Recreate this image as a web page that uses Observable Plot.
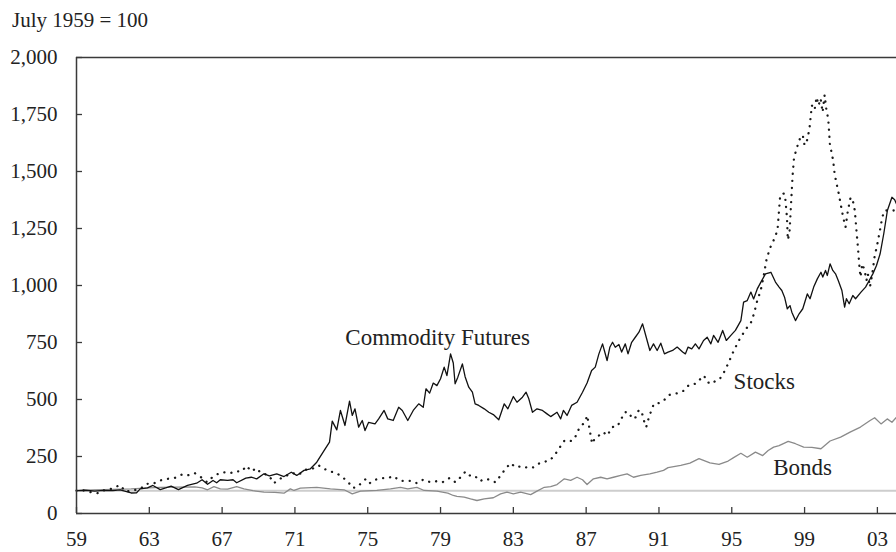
<!DOCTYPE html>
<html>
<head>
<meta charset="utf-8">
<script src="https://cdn.jsdelivr.net/npm/d3@7"></script>
<script src="https://cdn.jsdelivr.net/npm/@observablehq/plot@0.6"></script>
<style>
  html, body { margin: 0; padding: 0; background: #fff; }
  #wrap { width: 896px; height: 552px; position: relative; overflow: hidden; background: #fff; }
  #title { position: relative; height: 40px; font-family: "Liberation Serif", serif; font-size: 21px; color: #222; }
  #title span { position: absolute; left: 12px; top: 10px; line-height: 21px; white-space: nowrap; }
</style>
</head>
<body>
<div id="wrap">
  <div id="title"><span>July 1959 = 100</span></div>
  <div id="chart"></div>
</div>
<script>
// ---- Data (July 1959 = 100) ----
const xDomain = [1959, 2004.05];
const yDomain = [0, 2000];
const xTicks = [1959, 1963, 1967, 1971, 1975, 1979, 1983, 1987, 1991, 1995, 1999, 2003];
const yTicks = [0, 250, 500, 750, 1000, 1250, 1500, 1750, 2000];

const commodityYears = [1959.0,1959.5,1960.0,1960.5,1961.0,1961.4,1961.7,1962.0,1962.3,1962.5,1962.9,1963.2,1963.6,1963.9,1964.2,1964.6,1965.1,1965.6,1965.9,1966.2,1966.5,1966.7,1966.9,1967.3,1967.6,1967.8,1968.3,1968.6,1968.9,1969.3,1969.6,1970.0,1970.4,1970.8,1971.1,1971.5,1971.85,1972.2,1972.6,1972.9,1973.05,1973.3,1973.5,1973.75,1974.0,1974.15,1974.3,1974.5,1974.7,1974.85,1975.05,1975.4,1975.6,1975.9,1976.1,1976.4,1976.7,1976.9,1977.2,1977.5,1977.8,1978.05,1978.2,1978.4,1978.6,1978.8,1979.0,1979.2,1979.35,1979.55,1979.7,1979.8,1979.95,1980.2,1980.35,1980.55,1980.75,1980.9,1981.1,1981.4,1981.65,1981.9,1982.2,1982.5,1982.7,1983.0,1983.2,1983.5,1983.7,1983.85,1984.05,1984.3,1984.6,1984.85,1985.05,1985.4,1985.6,1985.75,1985.95,1986.2,1986.5,1986.8,1987.05,1987.3,1987.5,1987.7,1987.9,1988.0,1988.15,1988.3,1988.45,1988.6,1988.8,1988.95,1989.15,1989.3,1989.5,1989.7,1989.9,1990.1,1990.3,1990.5,1990.7,1990.9,1991.1,1991.3,1991.5,1991.75,1992.0,1992.3,1992.45,1992.6,1992.8,1993.0,1993.2,1993.45,1993.65,1993.85,1994.0,1994.25,1994.5,1994.7,1994.95,1995.2,1995.5,1995.65,1995.85,1996.05,1996.2,1996.4,1996.6,1996.85,1997.15,1997.4,1997.6,1997.75,1997.9,1998.05,1998.2,1998.3,1998.5,1998.7,1998.9,1999.15,1999.3,1999.5,1999.7,1999.9,2000.0,2000.15,2000.25,2000.4,2000.55,2000.7,2000.85,2001.05,2001.2,2001.3,2001.45,2001.65,2001.8,2002.1,2002.35,2002.55,2002.75,2002.95,2003.15,2003.35,2003.55,2003.8,2003.95,2004.05];
const commodityValues = [100,102,98,101,100,104,97,90,91,108,112,123,105,112,120,105,123,133,148,128,145,135,148,145,148,135,155,159,152,174,165,174,162,181,167,189,196,225,276,313,405,367,452,386,493,430,459,379,408,364,400,393,415,452,415,408,466,452,408,452,481,466,547,528,572,561,591,642,605,700,660,569,598,656,600,554,532,481,474,459,444,434,411,481,459,513,488,510,532,503,444,459,452,437,425,444,415,452,430,474,488,532,572,627,642,700,744,715,671,729,751,729,741,708,744,700,751,773,795,832,773,715,744,715,747,700,708,715,730,708,700,730,722,744,722,759,773,744,781,751,803,759,781,803,846,927,934,971,941,985,1015,1051,1058,1015,993,978,949,898,912,883,846,876,898,963,942,993,1029,1058,1037,1066,1044,1095,1066,1051,1022,978,905,942,920,956,942,971,993,1022,1051,1088,1139,1227,1329,1387,1376,1358];

const stockYears = [1959.0,1959.4,1959.77,1960.19,1960.6,1960.96,1961.38,1961.7,1962.1,1962.5,1962.85,1963.2,1963.6,1964.0,1964.4,1964.8,1965.1,1965.5,1965.9,1966.18,1966.5,1966.7,1967.06,1967.46,1967.7,1968.07,1968.34,1968.6,1968.89,1969.1,1969.3,1969.57,1969.84,1970.17,1970.57,1970.85,1971.2,1971.6,1971.95,1972.3,1972.6,1972.95,1973.3,1973.55,1973.9,1974.15,1974.4,1974.6,1974.9,1975.1,1975.4,1975.8,1976.1,1976.4,1976.8,1977.1,1977.4,1977.7,1978.05,1978.45,1978.8,1979.1,1979.5,1979.82,1980.1,1980.37,1980.65,1980.9,1981.16,1981.44,1981.71,1982.02,1982.3,1982.57,1982.85,1983.12,1983.49,1983.82,1984.13,1984.46,1984.77,1985.04,1985.32,1985.56,1985.81,1986.1,1986.36,1986.55,1986.75,1986.93,1987.06,1987.2,1987.33,1987.46,1987.7,1987.94,1988.16,1988.43,1988.71,1988.89,1989.11,1989.35,1989.53,1989.72,1989.9,1990.08,1990.17,1990.3,1990.45,1990.72,1991.0,1991.27,1991.55,1991.82,1992.1,1992.37,1992.65,1993.01,1993.29,1993.47,1993.65,1993.93,1994.11,1994.35,1994.53,1994.71,1994.84,1995.03,1995.21,1995.39,1995.67,1995.85,1996.03,1996.22,1996.4,1996.58,1996.75,1996.9,1997.08,1997.25,1997.4,1997.52,1997.65,1997.8,1997.92,1998.03,1998.08,1998.17,1998.34,1998.42,1998.56,1998.72,1998.9,1999.0,1999.15,1999.27,1999.4,1999.55,1999.66,1999.77,1999.88,1999.99,2000.1,2000.2,2000.3,2000.39,2000.46,2000.57,2000.65,2000.76,2000.88,2000.98,2001.12,2001.25,2001.38,2001.53,2001.67,2001.76,2001.85,2001.93,2002.0,2002.07,2002.17,2002.3,2002.4,2002.48,2002.59,2002.72,2002.84,2003.0,2003.14,2003.27,2003.4,2003.64,2003.9,2004.05];
const stockValues = [100,101,94,89,105,109,125,96,101,108,130,130,145,152,156,171,167,177,156,137,162,171,181,177,185,184,209,185,199,180,174,167,133,152,167,178,170,192,196,211,196,184,177,162,142,113,115,130,152,133,148,155,155,164,143,143,143,133,149,137,142,137,156,137,159,184,164,164,142,152,148,137,167,196,221,203,208,199,203,222,228,235,262,291,320,316,327,364,386,401,430,364,306,327,342,357,342,379,382,408,444,444,415,422,455,437,408,379,423,481,484,496,520,525,529,539,564,569,591,605,576,569,583,591,613,642,664,700,730,759,795,817,832,876,934,975,1040,1110,1160,1190,1215,1250,1385,1405,1400,1300,1200,1230,1480,1560,1600,1640,1660,1615,1640,1690,1790,1770,1826,1790,1820,1760,1835,1770,1730,1621,1592,1548,1490,1446,1402,1358,1300,1256,1329,1387,1365,1329,1241,1168,1095,1037,1095,1066,1022,1051,993,1051,1124,1183,1241,1300,1329,1329,1329,1310];

const bondYears = [1959.0,1960.0,1961.0,1962.0,1963.0,1963.6,1964.5,1965.5,1965.9,1966.2,1966.55,1966.9,1967.3,1967.8,1968.2,1968.7,1969.3,1969.9,1970.4,1970.75,1970.95,1971.3,1972.2,1972.95,1973.7,1974.15,1974.6,1975.5,1976.25,1976.8,1977.2,1977.7,1978.1,1978.8,1979.4,1979.7,1979.9,1980.3,1980.65,1981.0,1981.4,1981.9,1982.3,1982.65,1983.0,1983.4,1983.95,1984.3,1984.7,1985.05,1985.4,1985.8,1986.15,1986.5,1986.8,1987.05,1987.4,1987.8,1988.15,1988.5,1988.9,1989.25,1989.6,1990.0,1990.5,1990.9,1991.25,1991.5,1992.2,1992.7,1993.2,1993.8,1994.3,1994.8,1995.1,1995.5,1995.85,1996.3,1996.7,1997.0,1997.3,1997.6,1998.1,1998.5,1998.95,1999.4,1999.9,2000.4,2000.98,2001.5,2002.07,2002.6,2002.85,2003.2,2003.54,2003.8,2004.05];
const bondValues = [100,103,106,108,112,115,116,117,112,104,118,108,107,118,108,100,94,93,89,108,101,111,115,108,104,86,98,101,108,115,108,115,101,98,89,79,75,72,64,57,64,69,86,94,86,94,83,98,115,118,127,152,145,159,148,127,152,159,152,159,167,174,159,167,174,181,189,201,211,221,241,222,215,230,245,264,247,269,254,276,291,298,316,306,291,290,284,318,335,357,379,408,420,393,415,400,422];

const labelNames = ["Commodity Futures", "Stocks", "Bonds"];
const labelYears = [1978.84, 1995.1, 1997.28];
const labelValues = [739, 548, 167];

// ---- Build tables ----
const commodity = commodityYears.map((t, i) => ({year: t, value: commodityValues[i]}));
const stocks = stockYears.map((t, i) => ({year: t, value: stockValues[i]}));
const bonds = bondYears.map((t, i) => ({year: t, value: bondValues[i]}));
const labels = labelNames.map((n, i) => ({name: n, year: labelYears[i], value: labelValues[i]}));

const W = 896, H = 512, mT = 17, mL = 76, mR = 0, mB = 39;
const axisColor = "#3a3a3a";

const chart = Plot.plot({
  width: W, height: H,
  marginTop: mT, marginLeft: mL, marginRight: mR, marginBottom: mB,
  x: {domain: xDomain, label: null},
  y: {domain: yDomain, label: null},
  style: {fontFamily: "'Liberation Serif', serif", fontSize: "21px", color: "#222", background: "#fff", overflow: "visible"},
  marks: [
    Plot.ruleY([100], {stroke: "#cdcdcd", strokeWidth: 2}),
    Plot.line(bonds, {x: "year", y: "value", stroke: "#8a8a8a", strokeWidth: 1.3}),
    Plot.line(stocks, {x: "year", y: "value", stroke: "#1a1a1a", strokeWidth: 2.3, strokeDasharray: "0.1 7", strokeLinecap: "round", strokeLinejoin: "round"}),
    Plot.line(commodity, {x: "year", y: "value", stroke: "#111", strokeWidth: 1.3}),
    Plot.ruleX([xDomain[0]], {stroke: axisColor, strokeWidth: 1.5}),
    Plot.ruleY(yDomain, {stroke: axisColor, strokeWidth: 1.5}),
    Plot.tickX(xTicks, {x: d => d, insetTop: H - mT - mB - 6, stroke: axisColor, strokeWidth: 1.3}),
    Plot.tickY(yTicks, {y: d => d, insetRight: W - mL - mR - 6, stroke: axisColor, strokeWidth: 1.3}),
    Plot.axisX({ticks: xTicks, tickSize: 0, tickPadding: 18, tickFormat: d => String(d).slice(2), label: null, fill: "#222"}),
    Plot.axisY({ticks: yTicks, tickSize: 0, tickPadding: 19, tickFormat: d3.format(","), label: null, fill: "#222"}),
    Plot.text(labels.slice(0, 1), {x: "year", y: "value", text: "name", textAnchor: "middle", lineAnchor: "bottom", fontSize: 23, fill: "#222"}),
    Plot.text(labels.slice(1), {x: "year", y: "value", text: "name", textAnchor: "start", lineAnchor: "bottom", fontSize: 23, fill: "#222"})
  ]
});
document.getElementById("chart").appendChild(chart);
</script>
</body>
</html>
